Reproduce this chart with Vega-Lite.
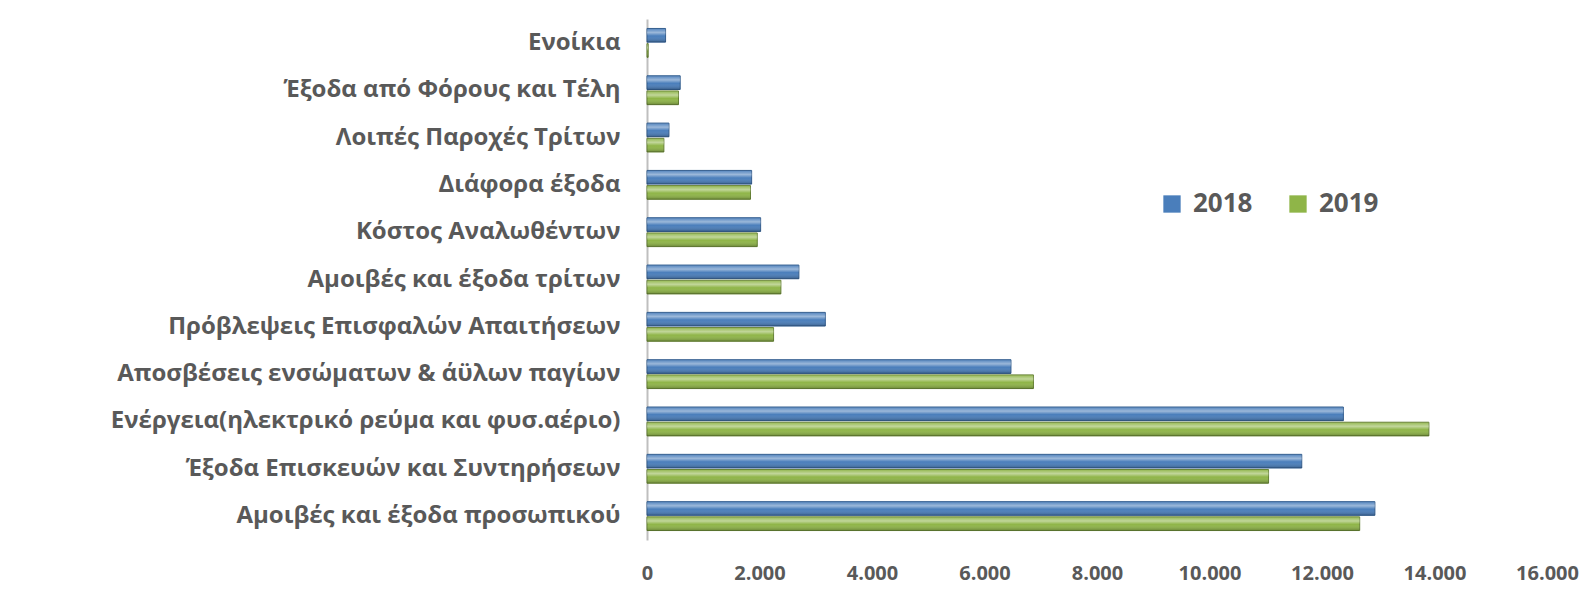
{
  "$schema": "https://vega.github.io/schema/vega-lite/v6.json",
  "autosize": {"type": "none"},
  "padding": {"left": 647, "top": 19, "right": 43, "bottom": 70},
  "width": 900,
  "height": 521,
  "background": "white",
  "config": {
    "locale": {"number": {"decimal": ",", "thousands": ".", "grouping": [3], "currency": ["", " €"]}},
    "view": {"stroke": null},
    "font": "Open Sans"
  },
  "data": {
    "values": [
      {"category": "Ενοίκια", "year": "2018", "value": 330},
      {"category": "Ενοίκια", "year": "2019", "value": 20},
      {"category": "Έξοδα από Φόρους και Τέλη", "year": "2018", "value": 590},
      {"category": "Έξοδα από Φόρους και Τέλη", "year": "2019", "value": 560},
      {"category": "Λοιπές Παροχές Τρίτων", "year": "2018", "value": 390},
      {"category": "Λοιπές Παροχές Τρίτων", "year": "2019", "value": 300},
      {"category": "Διάφορα έξοδα", "year": "2018", "value": 1860},
      {"category": "Διάφορα έξοδα", "year": "2019", "value": 1840},
      {"category": "Κόστος Αναλωθέντων", "year": "2018", "value": 2020},
      {"category": "Κόστος Αναλωθέντων", "year": "2019", "value": 1960},
      {"category": "Αμοιβές και έξοδα τρίτων", "year": "2018", "value": 2700},
      {"category": "Αμοιβές και έξοδα τρίτων", "year": "2019", "value": 2380},
      {"category": "Πρόβλεψεις Επισφαλών Απαιτήσεων", "year": "2018", "value": 3170},
      {"category": "Πρόβλεψεις Επισφαλών Απαιτήσεων", "year": "2019", "value": 2250},
      {"category": "Αποσβέσεις ενσώματων & άϋλων παγίων", "year": "2018", "value": 6470},
      {"category": "Αποσβέσεις ενσώματων & άϋλων παγίων", "year": "2019", "value": 6870},
      {"category": "Ενέργεια(ηλεκτρικό ρεύμα και φυσ.αέριο)", "year": "2018", "value": 12380},
      {"category": "Ενέργεια(ηλεκτρικό ρεύμα και φυσ.αέριο)", "year": "2019", "value": 13900},
      {"category": "Έξοδα Επισκευών και Συντηρήσεων", "year": "2018", "value": 11640},
      {"category": "Έξοδα Επισκευών και Συντηρήσεων", "year": "2019", "value": 11050},
      {"category": "Αμοιβές και έξοδα προσωπικού", "year": "2018", "value": 12940},
      {"category": "Αμοιβές και έξοδα προσωπικού", "year": "2019", "value": 12670}
    ]
  },
  "encoding": {
    "y": {
      "field": "category",
      "type": "nominal",
      "sort": null,
      "scale": {"paddingInner": 0.39, "paddingOuter": 0.2},
      "axis": {
        "title": null,
        "ticks": false,
        "domain": true,
        "domainColor": "#BFBFBF",
        "domainWidth": 2,
        "labelFont": "Open Sans",
        "labelFontWeight": "bold",
        "labelFontSize": 24,
        "labelColor": "#595959",
        "labelPadding": 27,
        "labelLimit": 700
      }
    },
    "yOffset": {"field": "year", "type": "nominal", "scale": {"paddingInner": 0.1}},
    "x": {
      "field": "value",
      "type": "quantitative",
      "scale": {"domain": [0, 16000], "nice": false},
      "axis": {
        "title": null,
        "values": [0, 2000, 4000, 6000, 8000, 10000, 12000, 14000, 16000],
        "format": ",.0f",
        "grid": false,
        "ticks": false,
        "domain": false,
        "labelFont": "Open Sans",
        "labelFontWeight": "bold",
        "labelFontSize": 20,
        "labelColor": "#595959",
        "labelPadding": 23,
        "labelFlush": false
      }
    }
  },
  "layer": [
    {
      "mark": {"type": "bar", "strokeWidth": 1},
      "encoding": {
        "color": {
          "field": "year",
          "type": "nominal",
          "scale": {"domain": ["2018", "2019"], "range": ["#4A7EBB", "#8FB548"]},
          "legend": {
            "title": null,
            "orient": "none",
            "legendX": 512,
            "legendY": 172,
            "direction": "horizontal",
            "symbolType": "square",
            "symbolSize": 300,
            "symbolStrokeWidth": 0,
            "labelFont": "Open Sans",
            "labelFontWeight": "bold",
            "labelFontSize": 26,
            "labelColor": "#595959",
            "labelOffset": 8,
            "columnPadding": 32
          }
        },
        "stroke": {
          "field": "year",
          "type": "nominal",
          "scale": {"domain": ["2018", "2019"], "range": ["#2F5A8C", "#637F30"]},
          "legend": null
        }
      }
    },
    {
      "mark": {
        "type": "bar",
        "fill": {
          "gradient": "linear",
          "x1": 0, "y1": 0, "x2": 0, "y2": 1,
          "stops": [
            {"offset": 0, "color": "rgba(255,255,255,0.05)"},
            {"offset": 0.3, "color": "rgba(255,255,255,0.45)"},
            {"offset": 0.55, "color": "rgba(255,255,255,0)"},
            {"offset": 1, "color": "rgba(0,0,0,0.25)"}
          ]
        }
      },
      "encoding": {}
    }
  ]
}
